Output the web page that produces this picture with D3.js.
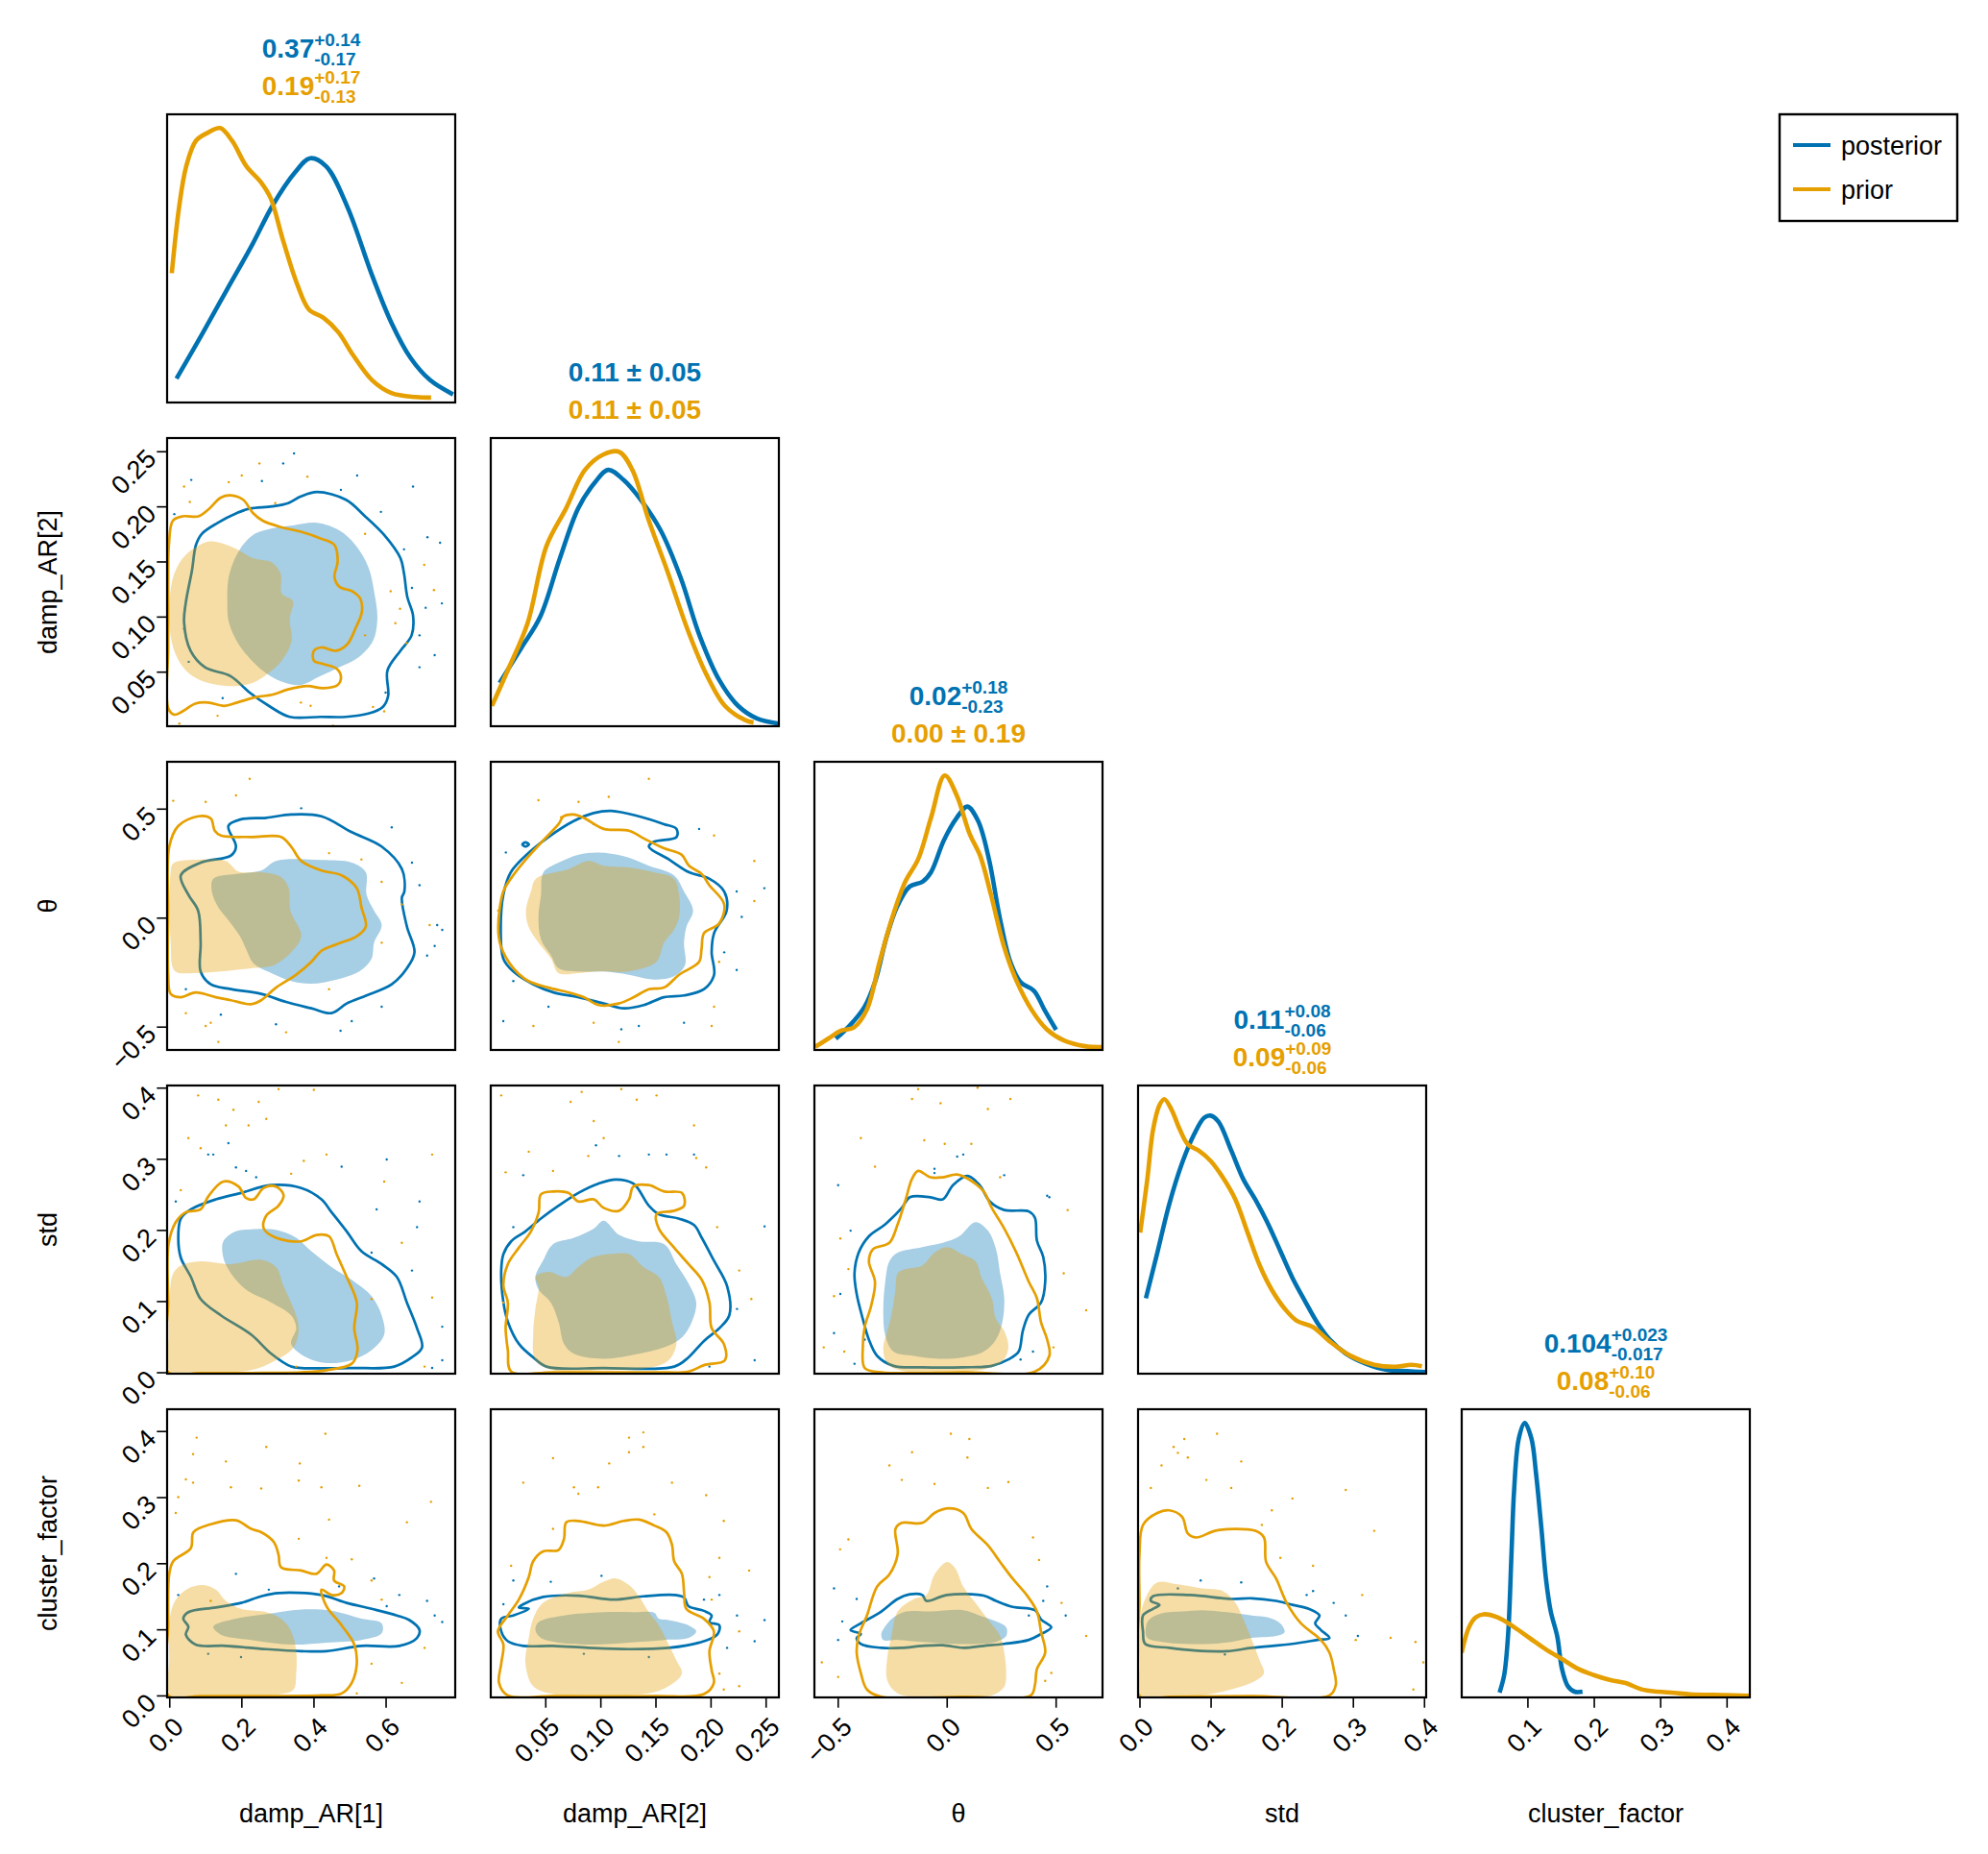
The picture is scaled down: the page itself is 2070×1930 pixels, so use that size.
<!DOCTYPE html>
<html>
<head>
<meta charset="utf-8">
<script src="https://cdn.jsdelivr.net/npm/d3@7"></script>
<style>
  body { margin: 0; background: #fff; }
  text { font-family: "Liberation Sans", Arial, sans-serif; }
</style>
</head>
<body>
<script>
// ---- variables / axes ----
const varNames = ["damp_AR[1]", "damp_AR[2]", "θ", "std", "cluster_factor"];
const xDomains = [[-0.006, 0.793], [0.0005, 0.262], [-0.607, 0.715], [-0.002, 0.403], [0.001, 0.435]];
const yDomains = [[-0.006, 0.793], [0.0005, 0.262], [-0.607, 0.715], [-0.002, 0.403], [-0.003, 0.433]];
const xTicks = [[0, 0.2, 0.4, 0.6], [0.05, 0.10, 0.15, 0.20, 0.25], [-0.5, 0, 0.5], [0, 0.1, 0.2, 0.3, 0.4], [0.1, 0.2, 0.3, 0.4]];
const yTicks = [[], [0.05, 0.10, 0.15, 0.20, 0.25], [-0.5, 0, 0.5], [0, 0.1, 0.2, 0.3, 0.4], [0, 0.1, 0.2, 0.3, 0.4]];
const tickDigits = [1, 2, 1, 1, 1];

// ---- summary titles: [value, plus, minus] or [single string] ----
const postTitles = [["0.37", "+0.14", "-0.17"], ["0.11 ± 0.05"], ["0.02", "+0.18", "-0.23"], ["0.11", "+0.08", "-0.06"], ["0.104", "+0.023", "-0.017"]];
const priorTitles = [["0.19", "+0.17", "-0.13"], ["0.11 ± 0.05"], ["0.00 ± 0.19"], ["0.09", "+0.09", "-0.06"], ["0.08", "+0.10", "-0.06"]];

// ---- 1D marginal densities [value, relative density] ----
const d0_post = [[0.020,0.083],[0.094,0.244],[0.161,0.394],[0.228,0.543],[0.288,0.687],[0.348,0.798],[0.391,0.848],[0.435,0.820],[0.495,0.676],[0.562,0.443],[0.616,0.277],[0.669,0.155],[0.723,0.078],[0.787,0.028]];
const d0_prior = [[0.007,0.449],[0.027,0.676],[0.047,0.820],[0.074,0.909],[0.107,0.937],[0.141,0.953],[0.174,0.909],[0.214,0.820],[0.254,0.765],[0.281,0.710],[0.315,0.565],[0.355,0.410],[0.388,0.322],[0.428,0.294],[0.469,0.244],[0.509,0.166],[0.562,0.078],[0.616,0.033],[0.683,0.019],[0.726,0.017]];
const d1_post = [[0.0085,0.151],[0.028,0.271],[0.0455,0.382],[0.063,0.582],[0.080,0.760],[0.095,0.849],[0.107,0.893],[0.121,0.858],[0.138,0.782],[0.155,0.680],[0.173,0.516],[0.190,0.316],[0.208,0.160],[0.225,0.071],[0.242,0.027],[0.262,0.009]];
const d1_prior = [[0.0016,0.071],[0.017,0.204],[0.034,0.360],[0.051,0.627],[0.069,0.760],[0.086,0.893],[0.103,0.947],[0.117,0.956],[0.129,0.893],[0.144,0.716],[0.161,0.538],[0.179,0.338],[0.196,0.182],[0.213,0.071],[0.231,0.022],[0.239,0.013]];
const d2_post = [[-0.509,0.039],[-0.446,0.084],[-0.377,0.150],[-0.328,0.239],[-0.279,0.384],[-0.229,0.496],[-0.170,0.568],[-0.111,0.585],[-0.072,0.618],[-0.013,0.729],[0.046,0.807],[0.095,0.846],[0.144,0.796],[0.194,0.663],[0.243,0.462],[0.292,0.306],[0.341,0.234],[0.400,0.206],[0.449,0.139],[0.502,0.070]];
const d2_prior = [[-0.603,0.011],[-0.544,0.039],[-0.485,0.067],[-0.426,0.078],[-0.367,0.139],[-0.308,0.306],[-0.249,0.462],[-0.190,0.585],[-0.131,0.663],[-0.072,0.807],[-0.009,0.954],[0.046,0.885],[0.105,0.752],[0.154,0.674],[0.203,0.540],[0.262,0.362],[0.321,0.239],[0.390,0.139],[0.459,0.072],[0.538,0.033],[0.636,0.013],[0.711,0.010]];
const d3_post = [[0.009,0.262],[0.025,0.419],[0.042,0.590],[0.060,0.732],[0.077,0.832],[0.091,0.889],[0.100,0.896],[0.111,0.875],[0.129,0.775],[0.146,0.675],[0.163,0.604],[0.181,0.519],[0.198,0.426],[0.215,0.333],[0.232,0.255],[0.250,0.177],[0.267,0.120],[0.290,0.070],[0.319,0.034],[0.348,0.013],[0.376,0.009],[0.402,0.006]];
const d3_prior = [[0.001,0.490],[0.011,0.675],[0.019,0.846],[0.028,0.932],[0.035,0.953],[0.045,0.917],[0.057,0.846],[0.068,0.796],[0.083,0.775],[0.100,0.739],[0.117,0.682],[0.135,0.604],[0.152,0.490],[0.169,0.376],[0.186,0.291],[0.204,0.226],[0.221,0.184],[0.244,0.162],[0.267,0.113],[0.296,0.063],[0.330,0.031],[0.359,0.024],[0.382,0.031],[0.397,0.026]];
const d4_post = [[0.058,0.017],[0.065,0.078],[0.071,0.223],[0.076,0.502],[0.080,0.725],[0.087,0.903],[0.096,0.957],[0.106,0.903],[0.113,0.780],[0.121,0.591],[0.128,0.412],[0.135,0.301],[0.145,0.212],[0.152,0.100],[0.161,0.039],[0.171,0.020],[0.183,0.020]];
const d4_prior = [[0.001,0.156],[0.012,0.245],[0.022,0.279],[0.034,0.290],[0.055,0.279],[0.080,0.245],[0.104,0.206],[0.128,0.167],[0.152,0.134],[0.176,0.100],[0.200,0.078],[0.224,0.061],[0.248,0.050],[0.272,0.028],[0.296,0.020],[0.321,0.016],[0.345,0.011],[0.393,0.008],[0.434,0.006]];

// ---- 2D panels: inner filled contour, outer contour line, outlier samples ----
// row 1 / col 0 : damp_AR[2] vs damp_AR[1]
const p10_postFill = [[0.410,0.185],[0.472,0.178],[0.516,0.165],[0.552,0.145],[0.569,0.121],[0.577,0.098],[0.565,0.078],[0.525,0.063],[0.472,0.054],[0.419,0.046],[0.365,0.038],[0.321,0.040],[0.276,0.047],[0.232,0.059],[0.192,0.075],[0.165,0.095],[0.161,0.113],[0.165,0.136],[0.192,0.159],[0.232,0.174],[0.285,0.180],[0.347,0.183]];
const p10_priorFill = [[0.108,0.168],[0.152,0.166],[0.188,0.161],[0.232,0.153],[0.285,0.149],[0.309,0.139],[0.312,0.121],[0.343,0.114],[0.334,0.098],[0.339,0.078],[0.312,0.060],[0.268,0.047],[0.232,0.040],[0.188,0.037],[0.134,0.038],[0.081,0.043],[0.046,0.051],[0.017,0.066],[0.001,0.089],[0.001,0.116],[0.014,0.139],[0.046,0.156]];
const p10_postLine = [[0.410,0.213],[0.490,0.206],[0.543,0.191],[0.596,0.174],[0.641,0.153],[0.651,0.139],[0.660,0.118],[0.676,0.101],[0.672,0.083],[0.641,0.069],[0.605,0.051],[0.607,0.028],[0.592,0.018],[0.552,0.012],[0.490,0.009],[0.419,0.009],[0.334,0.009],[0.276,0.019],[0.223,0.031],[0.170,0.046],[0.099,0.054],[0.059,0.069],[0.041,0.095],[0.046,0.113],[0.063,0.142],[0.074,0.165],[0.090,0.175],[0.134,0.185],[0.188,0.194],[0.223,0.198],[0.285,0.200],[0.330,0.203],[0.365,0.209]];
const p10_priorLine = [[0.170,0.210],[0.205,0.206],[0.232,0.194],[0.259,0.187],[0.312,0.181],[0.365,0.177],[0.419,0.171],[0.458,0.165],[0.467,0.150],[0.458,0.136],[0.472,0.127],[0.507,0.123],[0.530,0.116],[0.534,0.104],[0.516,0.089],[0.494,0.075],[0.463,0.069],[0.423,0.072],[0.401,0.069],[0.401,0.060],[0.427,0.057],[0.463,0.053],[0.476,0.046],[0.467,0.038],[0.427,0.035],[0.383,0.037],[0.330,0.034],[0.285,0.029],[0.241,0.027],[0.188,0.022],[0.152,0.019],[0.108,0.022],[0.072,0.021],[0.037,0.014],[0.014,0.011],[-0.003,0.017],[-0.003,0.072],[-0.003,0.130],[-0.001,0.165],[0.010,0.187],[0.037,0.191],[0.081,0.191],[0.108,0.197],[0.143,0.208]];
const p10_postDots = [[0.346,0.248],[0.316,0.239],[0.521,0.228],[0.676,0.218],[0.587,0.195],[0.716,0.172],[0.751,0.167],[0.651,0.161],[0.673,0.126],[0.711,0.108],[0.756,0.112],[0.694,0.083],[0.736,0.065],[0.694,0.054],[0.600,0.031],[0.014,0.193],[0.061,0.224],[0.257,0.223],[0.041,0.089],[0.148,0.026],[0.054,0.059],[0.476,0.215]];
const p10_priorDots = [[0.250,0.239],[0.201,0.228],[0.165,0.222],[0.041,0.218],[0.057,0.204],[0.383,0.227],[0.543,0.175],[0.614,0.123],[0.640,0.107],[0.627,0.094],[0.707,0.147],[0.734,0.124],[0.658,0.076],[0.543,0.083],[0.596,0.014],[0.565,0.018],[0.134,0.010],[0.028,0.003],[0.365,0.022],[0.392,0.019],[0.454,0.001],[0.294,0.203]];

// row 2 / col 0 : θ vs damp_AR[1]
const p20_postFill = [[0.122,0.179],[0.185,0.201],[0.255,0.216],[0.296,0.260],[0.422,0.264],[0.506,0.252],[0.545,0.208],[0.547,0.106],[0.568,0.032],[0.589,-0.034],[0.568,-0.115],[0.561,-0.188],[0.527,-0.247],[0.464,-0.284],[0.394,-0.303],[0.338,-0.291],[0.283,-0.254],[0.234,-0.210],[0.213,-0.144],[0.196,-0.085],[0.164,-0.012],[0.136,0.047],[0.118,0.120]];
const p20_priorFill = [[0.011,0.249],[0.087,0.267],[0.157,0.260],[0.192,0.211],[0.255,0.208],[0.310,0.186],[0.331,0.135],[0.336,0.032],[0.366,-0.085],[0.338,-0.159],[0.290,-0.218],[0.227,-0.232],[0.143,-0.247],[0.073,-0.254],[0.015,-0.244],[0.004,-0.115],[0.001,0.061],[0.004,0.208]];
const p20_postLine = [[0.338,0.473],[0.422,0.465],[0.506,0.392],[0.589,0.326],[0.645,0.223],[0.652,0.120],[0.645,0.091],[0.659,-0.041],[0.680,-0.159],[0.659,-0.232],[0.617,-0.306],[0.547,-0.357],[0.492,-0.394],[0.450,-0.438],[0.394,-0.416],[0.324,-0.387],[0.255,-0.350],[0.171,-0.328],[0.115,-0.306],[0.087,-0.247],[0.087,-0.115],[0.080,0.032],[0.053,0.105],[0.032,0.194],[0.087,0.252],[0.171,0.285],[0.185,0.326],[0.164,0.421],[0.199,0.451],[0.269,0.458]];
const p20_priorLine = [[0.080,0.465],[0.115,0.455],[0.126,0.399],[0.143,0.377],[0.227,0.370],[0.310,0.370],[0.338,0.326],[0.366,0.260],[0.422,0.216],[0.478,0.194],[0.520,0.135],[0.533,0.047],[0.545,-0.041],[0.520,-0.085],[0.464,-0.122],[0.422,-0.152],[0.394,-0.203],[0.352,-0.262],[0.296,-0.321],[0.255,-0.379],[0.227,-0.397],[0.171,-0.379],[0.129,-0.365],[0.073,-0.343],[0.032,-0.365],[0.004,-0.350],[-0.003,-0.262],[-0.003,0.032],[0.000,0.326],[0.025,0.421]];
const p20_postDots = [[0.366,0.502],[0.617,0.414],[0.673,0.252],[0.694,0.149],[0.743,-0.034],[0.757,-0.056],[0.736,-0.130],[0.715,-0.174],[0.589,-0.409],[0.506,-0.475],[0.475,-0.519],[0.046,-0.328],[0.143,-0.445],[0.296,-0.489]];
const p20_priorDots = [[0.223,0.637],[0.011,0.536],[0.185,0.561],[0.101,0.531],[0.443,0.296],[0.533,0.267],[0.589,0.164],[0.722,-0.034],[0.645,0.061],[0.115,-0.482],[0.101,-0.497],[0.136,-0.570],[0.324,-0.526],[0.443,-0.328],[0.589,-0.115],[0.046,-0.438]];

// row 2 / col 1 : θ vs damp_AR[2]
const p21_postFill = [[0.0985,0.299],[0.1212,0.282],[0.144,0.238],[0.1668,0.194],[0.1759,0.120],[0.1841,0.032],[0.1782,-0.041],[0.1759,-0.115],[0.1768,-0.218],[0.1668,-0.269],[0.1486,-0.284],[0.1258,-0.262],[0.1030,-0.247],[0.0802,-0.247],[0.0620,-0.232],[0.0552,-0.174],[0.0461,-0.100],[0.0438,0.003],[0.0461,0.105],[0.0483,0.208],[0.0620,0.252],[0.0802,0.289]];
const p21_priorFill = [[0.0711,0.223],[0.0893,0.260],[0.1030,0.238],[0.1258,0.230],[0.1486,0.208],[0.1668,0.179],[0.1714,0.105],[0.1714,0.003],[0.1668,-0.056],[0.1577,-0.115],[0.1508,-0.203],[0.1258,-0.247],[0.0985,-0.247],[0.0802,-0.254],[0.0620,-0.254],[0.0552,-0.188],[0.0438,-0.115],[0.0347,-0.041],[0.0324,0.032],[0.0370,0.120],[0.0415,0.179]];
const p21_postLine = [[0.1099,0.490],[0.1349,0.465],[0.1577,0.429],[0.1691,0.407],[0.1691,0.370],[0.1486,0.348],[0.1440,0.326],[0.1622,0.267],[0.1805,0.208],[0.1987,0.179],[0.2124,0.120],[0.2146,0.032],[0.2032,-0.071],[0.2010,-0.159],[0.2032,-0.262],[0.1941,-0.328],[0.1759,-0.357],[0.1577,-0.365],[0.1395,-0.401],[0.1212,-0.416],[0.1030,-0.394],[0.0802,-0.365],[0.0575,-0.343],[0.0392,-0.306],[0.0210,-0.247],[0.0119,-0.188],[0.0096,-0.041],[0.0119,0.105],[0.0187,0.208],[0.0347,0.296],[0.0529,0.370],[0.0757,0.443],[0.0939,0.480]];
const p21_postIsland = [[0.0292,0.336],[0.0320,0.345],[0.0351,0.336],[0.0320,0.326]];
const p21_priorLine = [[0.0757,0.473],[0.0848,0.458],[0.1030,0.407],[0.1258,0.399],[0.1395,0.363],[0.1577,0.318],[0.1736,0.289],[0.1805,0.238],[0.1918,0.201],[0.1987,0.150],[0.2124,0.061],[0.2078,-0.027],[0.1941,-0.071],[0.1918,-0.144],[0.1896,-0.203],[0.1714,-0.262],[0.1577,-0.321],[0.1440,-0.328],[0.1303,-0.365],[0.1167,-0.394],[0.0985,-0.401],[0.0848,-0.365],[0.0711,-0.343],[0.0529,-0.321],[0.0347,-0.291],[0.0210,-0.232],[0.0096,-0.130],[0.0073,-0.041],[0.0119,0.120],[0.0187,0.179],[0.0324,0.267],[0.0483,0.355],[0.0620,0.429],[0.0666,0.465]];
const p21_postDots = [[0.0142,0.299],[0.1896,0.407],[0.2237,0.120],[0.2488,0.135],[0.2283,0.003],[0.2124,-0.159],[0.2237,-0.240],[0.0210,-0.291],[0.0529,-0.409],[0.1190,-0.512],[0.1349,-0.497],[0.1759,-0.482],[0.0119,-0.475],[0.0939,0.429]];
const p21_priorDots = [[0.1440,0.637],[0.1076,0.554],[0.0438,0.539],[0.0802,0.531],[0.0643,0.461],[0.2032,0.377],[0.2397,0.260],[0.2078,-0.203],[0.2032,-0.409],[0.2010,-0.497],[0.1167,-0.570],[0.0392,-0.497],[0.0939,-0.482],[0.0073,0.032],[0.2397,0.076]];

// row 3 / col 0 : std vs damp_AR[1]
const p30_postFill = [[0.227,0.201],[0.296,0.200],[0.352,0.189],[0.394,0.170],[0.450,0.148],[0.506,0.130],[0.561,0.107],[0.589,0.080],[0.596,0.053],[0.561,0.031],[0.506,0.017],[0.436,0.013],[0.380,0.021],[0.338,0.040],[0.352,0.062],[0.338,0.080],[0.283,0.098],[0.213,0.116],[0.171,0.139],[0.150,0.161],[0.150,0.184],[0.185,0.198]];
const p30_priorFill = [[0.087,0.156],[0.171,0.152],[0.255,0.158],[0.296,0.148],[0.317,0.121],[0.345,0.089],[0.359,0.062],[0.345,0.035],[0.296,0.017],[0.227,0.003],[0.115,0.000],[0.004,0.000],[-0.002,0.053],[0.001,0.107],[0.011,0.139],[0.032,0.150]];
const p30_postLine = [[0.283,0.263],[0.366,0.259],[0.422,0.243],[0.450,0.225],[0.492,0.198],[0.533,0.170],[0.589,0.152],[0.631,0.134],[0.659,0.098],[0.687,0.062],[0.701,0.035],[0.673,0.021],[0.624,0.008],[0.506,0.006],[0.366,0.006],[0.338,0.008],[0.283,0.026],[0.227,0.053],[0.143,0.080],[0.087,0.103],[0.060,0.134],[0.032,0.161],[0.025,0.189],[0.032,0.216],[0.060,0.229],[0.129,0.243],[0.199,0.252]];
const p30_priorLine = [[0.150,0.268],[0.192,0.261],[0.213,0.245],[0.234,0.243],[0.262,0.259],[0.296,0.261],[0.317,0.249],[0.303,0.234],[0.269,0.220],[0.262,0.202],[0.296,0.189],[0.366,0.184],[0.408,0.193],[0.443,0.191],[0.464,0.166],[0.492,0.134],[0.520,0.098],[0.513,0.062],[0.522,0.031],[0.506,0.012],[0.436,0.003],[0.366,0.000],[0.227,-0.001],[0.087,-0.001],[-0.002,0.000],[-0.003,0.098],[-0.002,0.180],[0.018,0.211],[0.046,0.225],[0.087,0.229],[0.108,0.247]];
const p30_postDots = [[0.164,0.322],[0.108,0.306],[0.122,0.306],[0.185,0.288],[0.213,0.283],[0.241,0.274],[0.478,0.289],[0.603,0.299],[0.694,0.240],[0.575,0.229],[0.687,0.204],[0.673,0.143],[0.561,0.168],[0.018,0.240],[0.729,0.006],[0.757,0.017],[0.757,0.064]];
const p30_priorDots = [[0.080,0.389],[0.136,0.383],[0.178,0.369],[0.248,0.380],[0.303,0.398],[0.401,0.397],[0.157,0.347],[0.269,0.356],[0.053,0.329],[0.087,0.315],[0.220,0.347],[0.436,0.306],[0.373,0.297],[0.338,0.279],[0.596,0.268],[0.729,0.306],[0.645,0.182],[0.561,0.103],[0.729,0.105],[0.032,0.256],[0.352,0.008],[0.708,0.008]];

// row 3 / col 1 : std vs damp_AR[2]
const p31_postFill = [[0.103,0.213],[0.117,0.193],[0.135,0.184],[0.158,0.180],[0.169,0.152],[0.180,0.125],[0.187,0.098],[0.183,0.071],[0.174,0.049],[0.158,0.035],[0.135,0.026],[0.103,0.019],[0.076,0.026],[0.067,0.040],[0.062,0.071],[0.055,0.098],[0.044,0.116],[0.041,0.134],[0.048,0.157],[0.057,0.180],[0.076,0.189],[0.094,0.202]];
const p31_priorFill = [[0.108,0.166],[0.126,0.166],[0.139,0.148],[0.153,0.134],[0.160,0.107],[0.165,0.071],[0.169,0.040],[0.162,0.017],[0.144,0.006],[0.103,0.003],[0.057,0.003],[0.041,0.017],[0.039,0.053],[0.041,0.089],[0.044,0.121],[0.041,0.134],[0.053,0.141],[0.069,0.134],[0.080,0.148],[0.092,0.161]];
const p31_postLine = [[0.114,0.271],[0.130,0.265],[0.144,0.234],[0.153,0.222],[0.171,0.216],[0.185,0.207],[0.192,0.189],[0.203,0.157],[0.215,0.121],[0.217,0.080],[0.208,0.062],[0.194,0.044],[0.180,0.021],[0.167,0.008],[0.103,0.006],[0.051,0.008],[0.039,0.021],[0.026,0.040],[0.016,0.071],[0.012,0.098],[0.010,0.143],[0.012,0.166],[0.019,0.184],[0.032,0.198],[0.046,0.216],[0.062,0.234],[0.080,0.252],[0.098,0.265]];
const p31_priorLine = [[0.057,0.254],[0.071,0.252],[0.080,0.240],[0.094,0.243],[0.103,0.231],[0.117,0.227],[0.126,0.243],[0.130,0.261],[0.144,0.263],[0.158,0.254],[0.174,0.252],[0.176,0.234],[0.167,0.227],[0.151,0.222],[0.153,0.202],[0.167,0.175],[0.180,0.152],[0.192,0.130],[0.199,0.098],[0.201,0.062],[0.212,0.040],[0.213,0.017],[0.194,0.010],[0.180,0.001],[0.149,0.000],[0.057,0.000],[0.019,0.001],[0.016,0.031],[0.014,0.062],[0.016,0.098],[0.012,0.121],[0.016,0.152],[0.026,0.175],[0.037,0.198],[0.044,0.225],[0.046,0.250]];
const p31_postDots = [[0.096,0.319],[0.117,0.304],[0.144,0.306],[0.160,0.306],[0.185,0.306],[0.030,0.277],[0.021,0.204],[0.249,0.205],[0.224,0.089],[0.240,0.017],[0.199,0.008]];
const p31_priorDots = [[0.010,0.389],[0.083,0.394],[0.119,0.398],[0.133,0.383],[0.151,0.389],[0.073,0.380],[0.094,0.353],[0.185,0.347],[0.103,0.329],[0.035,0.310],[0.057,0.283],[0.089,0.304],[0.187,0.301],[0.196,0.288],[0.226,0.143],[0.237,0.103],[0.206,0.204],[0.014,0.281],[0.012,0.098]];

// row 3 / col 2 : std vs θ
const p32_postFill = [[0.132,0.211],[0.189,0.199],[0.226,0.173],[0.245,0.139],[0.264,0.104],[0.255,0.070],[0.226,0.046],[0.170,0.029],[0.076,0.021],[-0.037,0.019],[-0.150,0.023],[-0.244,0.029],[-0.282,0.052],[-0.291,0.087],[-0.282,0.127],[-0.263,0.156],[-0.225,0.168],[-0.112,0.176],[-0.018,0.182],[0.057,0.191]];
const p32_priorFill = [[0.001,0.176],[0.076,0.165],[0.132,0.156],[0.160,0.133],[0.207,0.104],[0.226,0.075],[0.264,0.058],[0.283,0.035],[0.255,0.015],[0.151,0.003],[-0.018,0.001],[-0.188,0.001],[-0.272,0.012],[-0.291,0.035],[-0.272,0.058],[-0.253,0.081],[-0.235,0.116],[-0.225,0.139],[-0.188,0.145],[-0.112,0.150],[-0.056,0.168]];
const p32_postLine = [[0.095,0.276],[0.151,0.263],[0.198,0.240],[0.264,0.228],[0.377,0.226],[0.405,0.217],[0.414,0.185],[0.443,0.162],[0.452,0.127],[0.433,0.098],[0.377,0.081],[0.349,0.058],[0.330,0.029],[0.283,0.018],[0.207,0.009],[0.076,0.007],[-0.112,0.007],[-0.244,0.009],[-0.319,0.023],[-0.357,0.046],[-0.385,0.075],[-0.413,0.110],[-0.423,0.139],[-0.404,0.168],[-0.357,0.191],[-0.282,0.208],[-0.206,0.231],[-0.169,0.246],[-0.075,0.246],[-0.018,0.243],[0.029,0.263]];
const p32_priorLine = [[-0.131,0.283],[-0.075,0.274],[-0.018,0.274],[0.048,0.278],[0.113,0.269],[0.170,0.254],[0.207,0.231],[0.264,0.202],[0.320,0.168],[0.377,0.127],[0.414,0.104],[0.433,0.070],[0.461,0.046],[0.471,0.023],[0.405,0.001],[0.076,0.000],[-0.300,0.000],[-0.376,0.006],[-0.385,0.035],[-0.376,0.064],[-0.347,0.093],[-0.329,0.127],[-0.357,0.156],[-0.338,0.173],[-0.263,0.182],[-0.225,0.208],[-0.188,0.243],[-0.159,0.272]];
const p32_postDots = [[0.076,0.306],[0.048,0.303],[-0.056,0.286],[-0.056,0.280],[0.264,0.277],[0.461,0.248],[0.471,0.246],[-0.498,0.263],[-0.441,0.199],[-0.488,0.110],[-0.517,0.055],[-0.376,0.046],[0.396,0.029],[0.339,0.018],[-0.423,0.012]];
const p32_priorDots = [[-0.131,0.398],[0.142,0.400],[0.292,0.384],[-0.028,0.378],[-0.159,0.384],[0.189,0.370],[-0.103,0.326],[-0.009,0.321],[0.113,0.321],[0.245,0.274],[-0.329,0.289],[-0.394,0.329],[-0.488,0.188],[-0.451,0.145],[-0.517,0.107],[-0.564,0.035],[0.555,0.228],[0.537,0.139],[0.640,0.087],[0.490,0.035],[-0.470,0.029]];

// row 4 / col 0 : cluster_factor vs damp_AR[1]
const p40_postFill = [[0.122,0.104],[0.185,0.116],[0.269,0.123],[0.366,0.130],[0.450,0.128],[0.533,0.116],[0.589,0.109],[0.589,0.094],[0.533,0.084],[0.436,0.080],[0.338,0.077],[0.227,0.084],[0.143,0.092]];
const p40_priorFill = [[0.094,0.167],[0.129,0.160],[0.157,0.143],[0.199,0.131],[0.269,0.126],[0.310,0.116],[0.338,0.097],[0.352,0.067],[0.352,0.033],[0.345,0.009],[0.310,0.002],[0.227,0.000],[0.087,-0.001],[0.004,0.000],[0.000,0.058],[0.001,0.116],[0.018,0.145],[0.053,0.162]];
const p40_postLine = [[0.303,0.155],[0.422,0.152],[0.492,0.140],[0.561,0.131],[0.631,0.121],[0.666,0.114],[0.694,0.099],[0.687,0.087],[0.638,0.075],[0.533,0.075],[0.436,0.067],[0.366,0.067],[0.269,0.070],[0.157,0.075],[0.073,0.077],[0.046,0.092],[0.053,0.104],[0.039,0.116],[0.053,0.126],[0.129,0.133],[0.199,0.140],[0.255,0.150]];
const p40_priorLine = [[0.185,0.265],[0.227,0.252],[0.255,0.247],[0.290,0.232],[0.303,0.213],[0.310,0.194],[0.366,0.189],[0.408,0.184],[0.436,0.198],[0.457,0.189],[0.457,0.174],[0.485,0.165],[0.478,0.155],[0.450,0.152],[0.422,0.160],[0.436,0.135],[0.478,0.106],[0.513,0.077],[0.520,0.048],[0.506,0.019],[0.478,0.003],[0.422,0.000],[0.227,-0.001],[0.087,-0.001],[-0.002,0.000],[-0.003,0.106],[0.000,0.184],[0.011,0.203],[0.060,0.223],[0.067,0.247],[0.115,0.259]];
const p40_postDots = [[0.185,0.184],[0.276,0.160],[0.471,0.165],[0.568,0.177],[0.638,0.152],[0.715,0.143],[0.736,0.121],[0.757,0.111],[0.603,0.135],[0.108,0.063],[0.199,0.058],[0.025,0.152]];
const p40_priorDots = [[0.076,0.390],[0.066,0.365],[0.157,0.354],[0.269,0.376],[0.433,0.396],[0.362,0.351],[0.359,0.325],[0.046,0.327],[0.066,0.322],[0.171,0.315],[0.255,0.313],[0.018,0.276],[0.025,0.300],[0.422,0.315],[0.443,0.266],[0.527,0.317],[0.659,0.262],[0.726,0.293],[0.359,0.237],[0.436,0.208],[0.506,0.206],[0.561,0.174],[0.589,0.145],[0.708,0.072],[0.561,0.048],[0.645,0.019],[0.520,0.003],[0.115,0.143]];

// row 4 / col 1 : cluster_factor vs damp_AR[2]
const p41_postFill = [[0.044,0.111],[0.067,0.121],[0.103,0.126],[0.130,0.126],[0.149,0.125],[0.153,0.116],[0.162,0.114],[0.180,0.106],[0.187,0.097],[0.180,0.087],[0.158,0.084],[0.126,0.080],[0.094,0.077],[0.062,0.080],[0.046,0.087],[0.041,0.099]];
const p41_priorFill = [[0.114,0.177],[0.126,0.167],[0.135,0.150],[0.144,0.126],[0.153,0.106],[0.162,0.077],[0.169,0.053],[0.174,0.033],[0.162,0.014],[0.144,0.003],[0.103,-0.001],[0.057,0.002],[0.039,0.014],[0.032,0.048],[0.035,0.087],[0.039,0.116],[0.048,0.140],[0.071,0.155],[0.089,0.160],[0.103,0.172]];
const p41_postLine = [[0.048,0.149],[0.080,0.151],[0.112,0.145],[0.139,0.150],[0.167,0.152],[0.176,0.148],[0.180,0.135],[0.194,0.128],[0.201,0.121],[0.199,0.111],[0.208,0.106],[0.206,0.092],[0.190,0.080],[0.162,0.072],[0.126,0.070],[0.089,0.072],[0.057,0.075],[0.030,0.075],[0.016,0.082],[0.010,0.097],[0.010,0.116],[0.021,0.121],[0.035,0.131],[0.026,0.133],[0.030,0.138]];
const p41_priorLine = [[0.069,0.262],[0.080,0.264],[0.103,0.257],[0.121,0.264],[0.135,0.266],[0.149,0.257],[0.160,0.247],[0.165,0.228],[0.167,0.203],[0.174,0.184],[0.176,0.155],[0.178,0.131],[0.194,0.116],[0.203,0.097],[0.199,0.067],[0.201,0.038],[0.203,0.019],[0.194,0.002],[0.149,-0.001],[0.057,-0.001],[0.016,0.000],[0.008,0.019],[0.010,0.048],[0.012,0.077],[0.007,0.097],[0.016,0.121],[0.026,0.145],[0.035,0.179],[0.039,0.203],[0.048,0.218],[0.062,0.220],[0.067,0.237]];
const p41_postDots = [[0.101,0.181],[0.055,0.172],[0.021,0.174],[0.012,0.138],[0.194,0.145],[0.208,0.152],[0.224,0.121],[0.240,0.082],[0.249,0.114],[0.215,0.072],[0.144,0.058],[0.085,0.063]];
const p41_priorDots = [[0.126,0.390],[0.139,0.398],[0.139,0.376],[0.057,0.359],[0.126,0.368],[0.108,0.351],[0.165,0.322],[0.098,0.315],[0.080,0.305],[0.076,0.315],[0.030,0.322],[0.196,0.303],[0.212,0.264],[0.149,0.274],[0.235,0.189],[0.208,0.208],[0.199,0.179],[0.201,0.145],[0.226,0.097],[0.226,0.014],[0.212,0.009],[0.208,0.033],[0.057,0.252],[0.019,0.196]];

// row 4 / col 2 : cluster_factor vs θ
const p42_postFill = [[-0.188,0.127],[-0.075,0.127],[0.076,0.129],[0.151,0.121],[0.226,0.112],[0.273,0.103],[0.273,0.090],[0.226,0.081],[0.151,0.078],[0.038,0.078],[-0.112,0.081],[-0.225,0.084],[-0.291,0.084],[-0.300,0.093],[-0.272,0.109],[-0.244,0.118]];
const p42_priorFill = [[0.001,0.202],[0.038,0.193],[0.076,0.165],[0.132,0.140],[0.189,0.115],[0.245,0.090],[0.264,0.065],[0.273,0.034],[0.264,0.013],[0.207,0.000],[0.076,-0.003],[-0.112,-0.003],[-0.225,0.003],[-0.272,0.022],[-0.272,0.059],[-0.253,0.090],[-0.225,0.127],[-0.150,0.146],[-0.093,0.152],[-0.056,0.183]];
const p42_postLine = [[-0.169,0.153],[-0.112,0.152],[-0.093,0.143],[0.001,0.152],[0.170,0.151],[0.226,0.143],[0.302,0.134],[0.405,0.129],[0.433,0.115],[0.480,0.103],[0.433,0.093],[0.377,0.084],[0.264,0.078],[0.170,0.075],[0.076,0.072],[-0.018,0.076],[-0.112,0.075],[-0.206,0.072],[-0.300,0.072],[-0.394,0.078],[-0.413,0.087],[-0.394,0.093],[-0.441,0.099],[-0.394,0.109],[-0.300,0.127],[-0.225,0.146]];
const p42_priorLine = [[0.010,0.283],[0.076,0.276],[0.113,0.252],[0.189,0.227],[0.245,0.202],[0.302,0.177],[0.367,0.152],[0.414,0.127],[0.433,0.096],[0.452,0.065],[0.414,0.040],[0.405,0.016],[0.386,0.000],[0.076,-0.002],[-0.300,-0.002],[-0.366,0.009],[-0.394,0.034],[-0.413,0.065],[-0.404,0.090],[-0.366,0.121],[-0.319,0.165],[-0.263,0.183],[-0.225,0.214],[-0.235,0.252],[-0.206,0.261],[-0.112,0.261],[-0.056,0.276]];
const p42_postDots = [[-0.517,0.162],[-0.413,0.146],[0.461,0.165],[0.443,0.143],[0.546,0.121],[0.377,0.121],[-0.498,0.084],[-0.479,0.112]];
const p42_priorDots = [[0.019,0.396],[0.104,0.388],[0.095,0.360],[-0.159,0.368],[-0.263,0.348],[-0.206,0.326],[0.189,0.314],[0.283,0.323],[-0.056,0.320],[0.396,0.239],[0.424,0.205],[-0.489,0.221],[-0.451,0.236],[0.527,0.140],[0.640,0.090],[-0.573,0.050],[-0.498,0.028],[0.480,0.034],[0.452,0.022]];

// row 4 / col 3 : cluster_factor vs std
const p43_postFill = [[0.014,0.115],[0.031,0.124],[0.060,0.127],[0.088,0.129],[0.123,0.126],[0.158,0.121],[0.181,0.118],[0.198,0.109],[0.204,0.096],[0.192,0.090],[0.158,0.087],[0.129,0.081],[0.100,0.078],[0.065,0.078],[0.031,0.081],[0.011,0.087],[0.009,0.103]];
const p43_priorFill = [[0.025,0.171],[0.054,0.168],[0.088,0.162],[0.117,0.158],[0.135,0.140],[0.146,0.115],[0.158,0.084],[0.169,0.053],[0.175,0.034],[0.163,0.022],[0.129,0.009],[0.088,0.000],[0.042,-0.003],[0.002,-0.003],[0.000,0.047],[0.000,0.109],[0.008,0.146]];
const p43_postLine = [[0.019,0.150],[0.071,0.152],[0.129,0.146],[0.158,0.147],[0.192,0.143],[0.215,0.137],[0.238,0.131],[0.253,0.121],[0.247,0.109],[0.255,0.099],[0.267,0.087],[0.250,0.084],[0.215,0.078],[0.158,0.072],[0.123,0.067],[0.077,0.068],[0.042,0.072],[0.008,0.078],[0.005,0.096],[0.005,0.121],[0.019,0.131],[0.028,0.137],[0.016,0.143]];
const p43_priorLine = [[0.042,0.280],[0.060,0.270],[0.068,0.245],[0.080,0.239],[0.106,0.249],[0.135,0.252],[0.163,0.249],[0.175,0.239],[0.178,0.202],[0.192,0.177],[0.207,0.140],[0.227,0.109],[0.255,0.084],[0.267,0.065],[0.273,0.040],[0.276,0.016],[0.267,0.000],[0.158,-0.001],[0.042,-0.002],[0.001,-0.002],[0.000,0.140],[0.000,0.214],[0.005,0.258],[0.025,0.276]];
const p43_postDots = [[0.086,0.174],[0.143,0.171],[0.244,0.158],[0.235,0.152],[0.273,0.140],[0.290,0.121],[0.307,0.090],[0.120,0.062],[0.054,0.162]];
const p43_priorDots = [[0.048,0.376],[0.063,0.388],[0.109,0.396],[0.054,0.367],[0.068,0.360],[0.031,0.348],[0.143,0.354],[0.094,0.326],[0.129,0.314],[0.290,0.311],[0.016,0.314],[0.215,0.298],[0.186,0.280],[0.172,0.258],[0.198,0.208],[0.244,0.196],[0.330,0.249],[0.313,0.152],[0.304,0.084],[0.353,0.087],[0.388,0.081],[0.399,0.050],[0.385,0.009]];

// ---- tables built from the arrays ----
const diagonals = [
  {post: d0_post, prior: d0_prior},
  {post: d1_post, prior: d1_prior},
  {post: d2_post, prior: d2_prior},
  {post: d3_post, prior: d3_prior},
  {post: d4_post, prior: d4_prior}
];
const panels = [
  {row: 1, col: 0, post: {fill: [p10_postFill], line: [p10_postLine], dots: p10_postDots}, prior: {fill: [p10_priorFill], line: [p10_priorLine], dots: p10_priorDots}},
  {row: 2, col: 0, post: {fill: [p20_postFill], line: [p20_postLine], dots: p20_postDots}, prior: {fill: [p20_priorFill], line: [p20_priorLine], dots: p20_priorDots}},
  {row: 2, col: 1, post: {fill: [p21_postFill], line: [p21_postLine, p21_postIsland], dots: p21_postDots}, prior: {fill: [p21_priorFill], line: [p21_priorLine], dots: p21_priorDots}},
  {row: 3, col: 0, post: {fill: [p30_postFill], line: [p30_postLine], dots: p30_postDots}, prior: {fill: [p30_priorFill], line: [p30_priorLine], dots: p30_priorDots}},
  {row: 3, col: 1, post: {fill: [p31_postFill], line: [p31_postLine], dots: p31_postDots}, prior: {fill: [p31_priorFill], line: [p31_priorLine], dots: p31_priorDots}},
  {row: 3, col: 2, post: {fill: [p32_postFill], line: [p32_postLine], dots: p32_postDots}, prior: {fill: [p32_priorFill], line: [p32_priorLine], dots: p32_priorDots}},
  {row: 4, col: 0, post: {fill: [p40_postFill], line: [p40_postLine], dots: p40_postDots}, prior: {fill: [p40_priorFill], line: [p40_priorLine], dots: p40_priorDots}},
  {row: 4, col: 1, post: {fill: [p41_postFill], line: [p41_postLine], dots: p41_postDots}, prior: {fill: [p41_priorFill], line: [p41_priorLine], dots: p41_priorDots}},
  {row: 4, col: 2, post: {fill: [p42_postFill], line: [p42_postLine], dots: p42_postDots}, prior: {fill: [p42_priorFill], line: [p42_priorLine], dots: p42_priorDots}},
  {row: 4, col: 3, post: {fill: [p43_postFill], line: [p43_postLine], dots: p43_postDots}, prior: {fill: [p43_priorFill], line: [p43_priorLine], dots: p43_priorDots}}
];

// ---- layout ----
const W = 2070, H = 1930;
const gridLeft = 174, gridTop = 119, cell = 300, gap = 37;
const tickLen = 10.7;
const colors = {post: "#0072B2", prior: "#E69F00"};

const cellX = j => gridLeft + j * (cell + gap);
const cellY = i => gridTop + i * (cell + gap);

const svg = d3.select("body").append("svg")
    .attr("width", W)
    .attr("height", H);

const defs = svg.append("defs");

const xScales = xDomains.map((d, j) => d3.scaleLinear().domain(d).range([cellX(j), cellX(j) + cell]));
const yScales = yDomains.map((d, i) => d3.scaleLinear().domain(d).range([cellY(i) + cell, cellY(i)]));

function fmtTick(v, digits) {
  const s = Math.abs(v).toFixed(digits);
  return v < 0 ? "\u2212" + s : s;
}

function clipFor(i, j) {
  const id = `clip-${i}-${j}`;
  defs.append("clipPath").attr("id", id)
    .append("rect")
    .attr("x", cellX(j)).attr("y", cellY(i))
    .attr("width", cell).attr("height", cell);
  return `url(#${id})`;
}

// ---- 2D panels ----
panels.forEach(p => {
  const x = xScales[p.col], y = yScales[p.row];
  const g = svg.append("g").attr("clip-path", clipFor(p.row, p.col));
  const ring = d3.line().x(d => x(d[0])).y(d => y(d[1])).curve(d3.curveCatmullRomClosed.alpha(0.5));

  ["post", "prior"].forEach(s => {
    const c = colors[s];
    g.append("g").selectAll("circle")
      .data(p[s].dots)
      .join("circle")
      .attr("cx", d => x(d[0]))
      .attr("cy", d => y(d[1]))
      .attr("r", 1.2)
      .attr("fill", c);

    g.append("g").selectAll("path")
      .data(p[s].fill)
      .join("path")
      .attr("d", ring)
      .attr("fill", c)
      .attr("fill-opacity", 0.35)
      .attr("stroke", "none");

    g.append("g").selectAll("path")
      .data(p[s].line)
      .join("path")
      .attr("d", ring)
      .attr("fill", "none")
      .attr("stroke", c)
      .attr("stroke-width", 2.7);
  });
});

// ---- diagonal densities ----
diagonals.forEach((d, i) => {
  const x = xScales[i];
  const ymax = d3.max([...d.post, ...d.prior], v => v[1]);
  const y = d3.scaleLinear().domain([0, ymax * 1.05]).range([cellY(i) + cell, cellY(i)]);
  const curve = d3.line().x(v => x(v[0])).y(v => y(v[1])).curve(d3.curveCatmullRom.alpha(0.5));
  const g = svg.append("g").attr("clip-path", clipFor(i, i));
  ["post", "prior"].forEach(s => {
    g.append("path")
      .attr("d", curve(d[s]))
      .attr("fill", "none")
      .attr("stroke", colors[s])
      .attr("stroke-width", 4.6)
      .attr("stroke-linejoin", "round");
  });
});

// ---- frames ----
const frames = [];
for (let i = 0; i < 5; i++) for (let j = 0; j <= i; j++) frames.push([i, j]);
svg.append("g").selectAll("rect")
  .data(frames)
  .join("rect")
  .attr("x", d => cellX(d[1]))
  .attr("y", d => cellY(d[0]))
  .attr("width", cell)
  .attr("height", cell)
  .attr("fill", "none")
  .attr("stroke", "#000")
  .attr("stroke-width", 2.2);

// ---- axes ----
function styleAxis(g) {
  g.attr("font-size", null).attr("font-family", null);
  g.select(".domain").remove();
  g.selectAll(".tick line").attr("stroke", "#000").attr("stroke-width", 1.6);
  g.selectAll(".tick text")
    .attr("fill", "#000")
    .style("font-size", "27px");
}

// bottom row x axes
for (let j = 0; j < 5; j++) {
  const g = svg.append("g")
    .attr("transform", `translate(0,${cellY(4) + cell})`)
    .call(d3.axisBottom(xScales[j]).tickValues(xTicks[j]).tickSize(tickLen).tickPadding(0)
      .tickFormat(v => fmtTick(v, tickDigits[j])));
  styleAxis(g);
  g.selectAll(".tick text")
    .attr("x", 0).attr("y", 0).attr("dy", "0.72em")
    .attr("text-anchor", "end")
    .attr("transform", `translate(2,${tickLen + 8}) rotate(-45)`);
}

// left column y axes
for (let i = 1; i < 5; i++) {
  const g = svg.append("g")
    .attr("transform", `translate(${cellX(0)},0)`)
    .call(d3.axisLeft(yScales[i]).tickValues(yTicks[i]).tickSize(tickLen).tickPadding(0)
      .tickFormat(v => fmtTick(v, tickDigits[i])));
  styleAxis(g);
  g.selectAll(".tick text")
    .attr("x", 0).attr("y", 0).attr("dy", "0.36em")
    .attr("text-anchor", "end")
    .attr("transform", `translate(${-tickLen - 6},2) rotate(-45)`);
}

// axis labels
svg.append("g").selectAll("text")
  .data(varNames)
  .join("text")
  .attr("x", (d, j) => cellX(j) + cell / 2)
  .attr("y", 1897)
  .attr("text-anchor", "middle")
  .style("font-size", "27px")
  .text(d => d);

svg.append("g").selectAll("text")
  .data(varNames.slice(1))
  .join("text")
  .attr("transform", (d, k) => `translate(49,${cellY(k + 1) + cell / 2}) rotate(-90)`)
  .attr("text-anchor", "middle")
  .attr("dy", "0.36em")
  .style("font-size", "27px")
  .text(d => d);

// ---- titles above diagonals ----
function drawTitle(parts, cx, baseline, color) {
  const g = svg.append("g").attr("fill", color).style("font-weight", "bold");
  const main = g.append("text").attr("y", baseline).style("font-size", "28px").text(parts[0]);
  const mw = main.node().getComputedTextLength();
  if (parts.length === 1) {
    main.attr("x", cx).attr("text-anchor", "middle");
    return;
  }
  const sup = g.append("text").attr("y", baseline - 12).style("font-size", "19px").text(parts[1]);
  const sub = g.append("text").attr("y", baseline + 8).style("font-size", "19px").text(parts[2]);
  const sw = Math.max(sup.node().getComputedTextLength(), sub.node().getComputedTextLength());
  const x0 = cx - (mw + sw) / 2;
  main.attr("x", x0);
  sup.attr("x", x0 + mw);
  sub.attr("x", x0 + mw);
}

for (let i = 0; i < 5; i++) {
  const cx = cellX(i) + cell / 2;
  drawTitle(postTitles[i], cx, cellY(i) - 59, colors.post);
  drawTitle(priorTitles[i], cx, cellY(i) - 20, colors.prior);
}

// ---- legend ----
const legendItems = [{label: "posterior", color: colors.post}, {label: "prior", color: colors.prior}];
const lg = svg.append("g");
lg.append("rect")
  .attr("x", 1853).attr("y", 119)
  .attr("width", 185).attr("height", 111)
  .attr("fill", "#fff")
  .attr("stroke", "#000")
  .attr("stroke-width", 2.4);
const li = lg.selectAll("g.item")
  .data(legendItems)
  .join("g")
  .attr("class", "item")
  .attr("transform", (d, k) => `translate(0,${151 + k * 46})`);
li.append("line")
  .attr("x1", 1867).attr("x2", 1906)
  .attr("stroke", d => d.color)
  .attr("stroke-width", 4);
li.append("text")
  .attr("x", 1917)
  .attr("dy", "0.36em")
  .style("font-size", "27px")
  .text(d => d.label);
</script>
</body>
</html>
